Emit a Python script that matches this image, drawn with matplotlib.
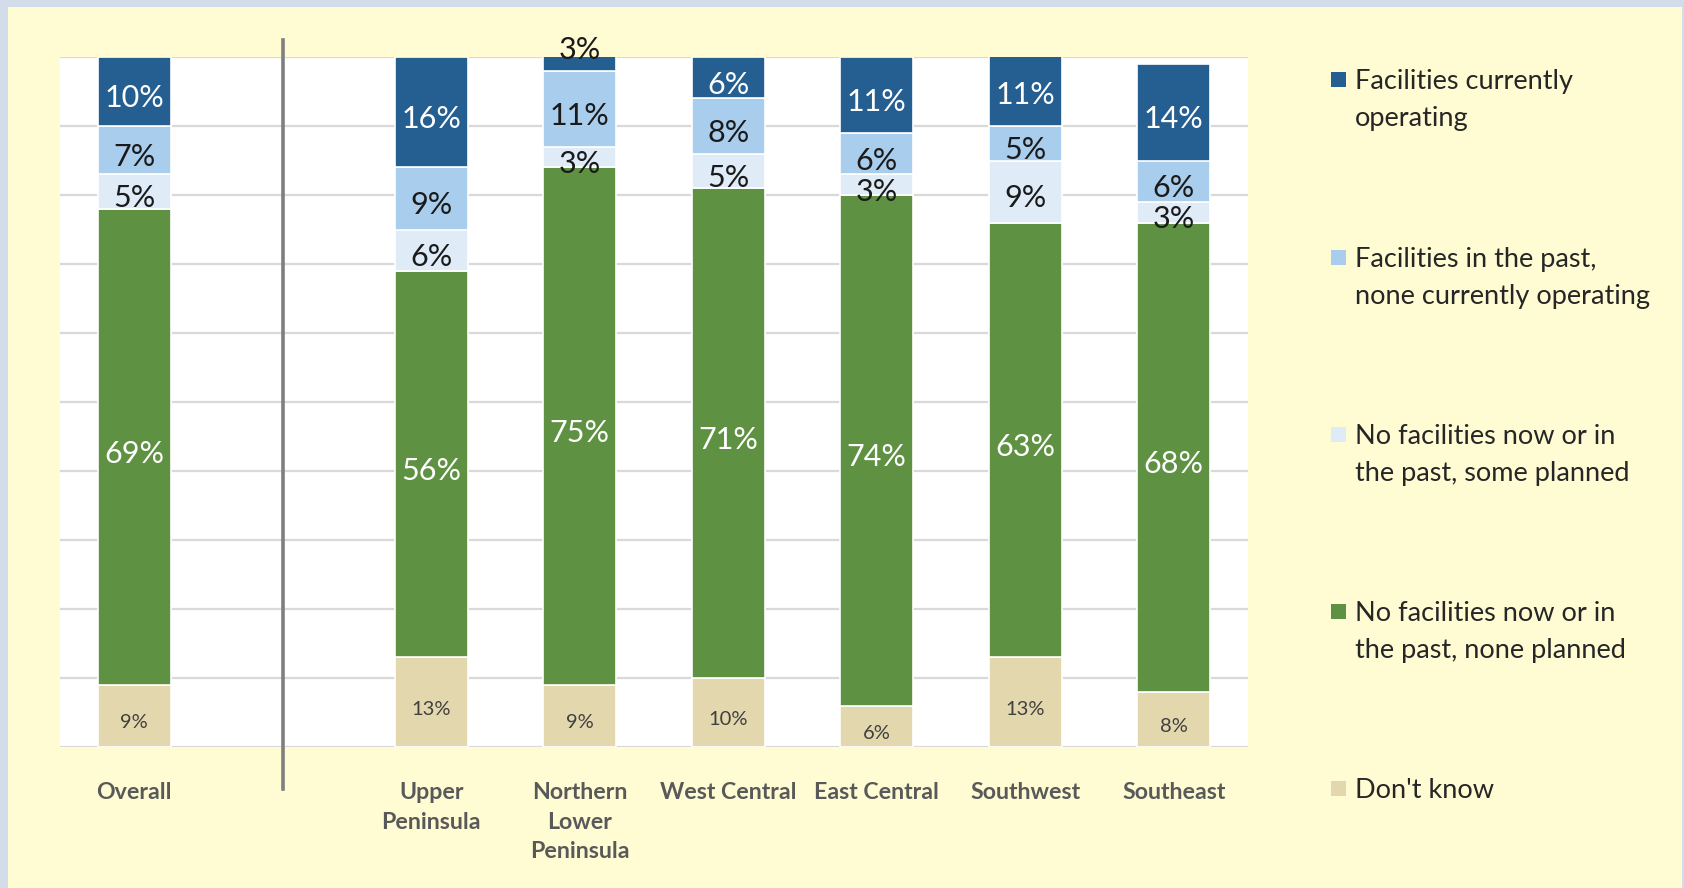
import matplotlib.pyplot as plt
import matplotlib.patches as patches
import numpy as np

plt.rcParams["font.family"] = ["Lato", "DejaVu Sans"]

regions = ["Overall", "Upper\nPeninsula", "Northern\nLower\nPeninsula",
           "West Central", "East Central", "Southwest", "Southeast"]
# slot index of each bar (slot 1 is left empty for the divider)
slots = [0, 2, 3, 4, 5, 6, 7]

dont_know = [9, 13, 9, 10, 6, 13, 8]
none_planned = [69, 56, 75, 71, 74, 63, 68]
some_planned = [5, 6, 3, 5, 3, 9, 3]
past_only = [7, 9, 11, 8, 6, 5, 6]
current = [10, 16, 3, 6, 11, 11, 14]

series = [
    ("Don't know", dont_know, "#E3D7AE", "#404040", 14.5),
    ("No facilities now or in\nthe past, none planned", none_planned, "#5F9142", "white", 22),
    ("No facilities now or in\nthe past, some planned", some_planned, "#DFECF7", "#1a1a1a", 22),
    ("Facilities in the past,\nnone currently operating", past_only, "#A9CDEC", "#1a1a1a", 22),
    ("Facilities currently\noperating", current, "#255E91", "white", 22),
]

fig = plt.figure(figsize=(16.84, 8.88), dpi=100)
fig.patch.set_facecolor("#D3DCE9")
fig.patches.append(patches.Rectangle((8 / 1684, 0), 1674 / 1684, 881 / 888,
                                     transform=fig.transFigure, facecolor="#FFFCD3",
                                     edgecolor="none", zorder=-5))

ax = fig.add_axes([60 / 1684, 1 - 747 / 888, 1188 / 1684, 690 / 888])
ax.set_facecolor("white")

x = np.array(slots)
bottom = np.zeros(len(regions))
for label, vals, color, tcolor, fs in series:
    vals = np.array(vals, dtype=float)
    ax.bar(x, vals, bottom=bottom, width=0.49, color=color,
           edgecolor="white", linewidth=1.2, zorder=2)
    for xi, b, v in zip(x, bottom, vals):
        ypos, dy, c = b + v / 2, -5, tcolor
        if b + v > 100 and v < 5:
            # thin segment pushed past the top: label sits above the plot
            ypos, dy, c = b + v, 0, "#1a1a1a"
        t = ax.annotate(f"{int(v)}%", (xi, ypos), xytext=(0, dy),
                        textcoords="offset points", ha="center", va="center",
                        color=c, fontsize=fs, zorder=4, annotation_clip=False)
        t.set_clip_on(False)
    bottom += vals

ax.set_xlim(-0.5, 7.5)
ax.set_ylim(0, 100)
ax.set_yticks(np.arange(0, 101, 10))
ax.yaxis.grid(True, color="#D9D9D9", linewidth=1.6, zorder=0)
ax.set_axisbelow(True)
ax.tick_params(axis="y", left=False, labelleft=False)
ax.tick_params(axis="x", bottom=False, pad=22)
ax.set_xticks(x)
ax.set_xticklabels(regions, fontsize=16.7, fontweight="bold", color="#595959",
                   linespacing=1.5, va="top")
for s in ax.spines.values():
    s.set_visible(False)

# divider between Overall and the regions
ax.plot([1, 1], [-6.1, 102.5], color="#7F7F7F", linewidth=2.6,
        clip_on=False, zorder=5)

# legend on the right
legend_y = [84, 262, 439, 616, 793]
for (label, vals, color, tcolor, fs), yy in zip(series[::-1], legend_y):
    fig.patches.append(patches.Rectangle((1331 / 1684, 1 - (yy + 3) / 888), 15 / 1684, 15 / 888,
                                         transform=fig.transFigure, facecolor=color,
                                         edgecolor="none", zorder=3))
    fig.text(1355 / 1684, 1 - (yy - 15) / 888, label, ha="left", va="top",
             fontsize=19.5, color="#262626", linespacing=1.58)

fig.savefig("out.png", dpi=100, facecolor=fig.get_facecolor())
